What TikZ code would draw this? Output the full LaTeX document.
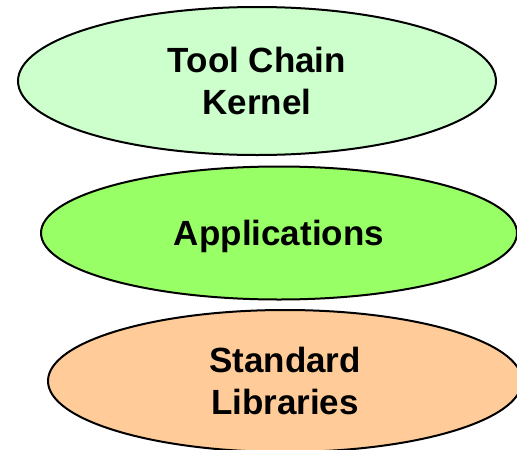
\documentclass[tikz,border=0pt]{standalone}
\usepackage{fontspec}
\setmainfont{Liberation Sans}
\usetikzlibrary{shapes.geometric}

\tikzset{
  layer/.style={ellipse, draw=black, line width=2pt, align=center,
    font=\fontsize{35}{42}\selectfont\bfseries, inner sep=0pt, text depth=0pt},
}

\begin{document}
\begin{tikzpicture}[x=1pt, y=-1pt]
                \useasboundingbox (0, 0) rectangle (517, 450);
                \node[layer, fill=green!20!white, minimum width=478pt, minimum height=148pt] (toolchain) at (257, 81) {Tool Chain\\Kernel};
                \node[layer, fill={rgb,255:red,153;green,255;blue,102}, minimum width=476pt, minimum height=133pt] (apps) at (279, 233) {Applications};
                \node[layer, fill={rgb,255:red,255;green,204;blue,153}, minimum width=474pt, minimum height=142pt] (stdlib) at (285, 381) {Standard\\Libraries};
            \end{tikzpicture}
\end{document}
